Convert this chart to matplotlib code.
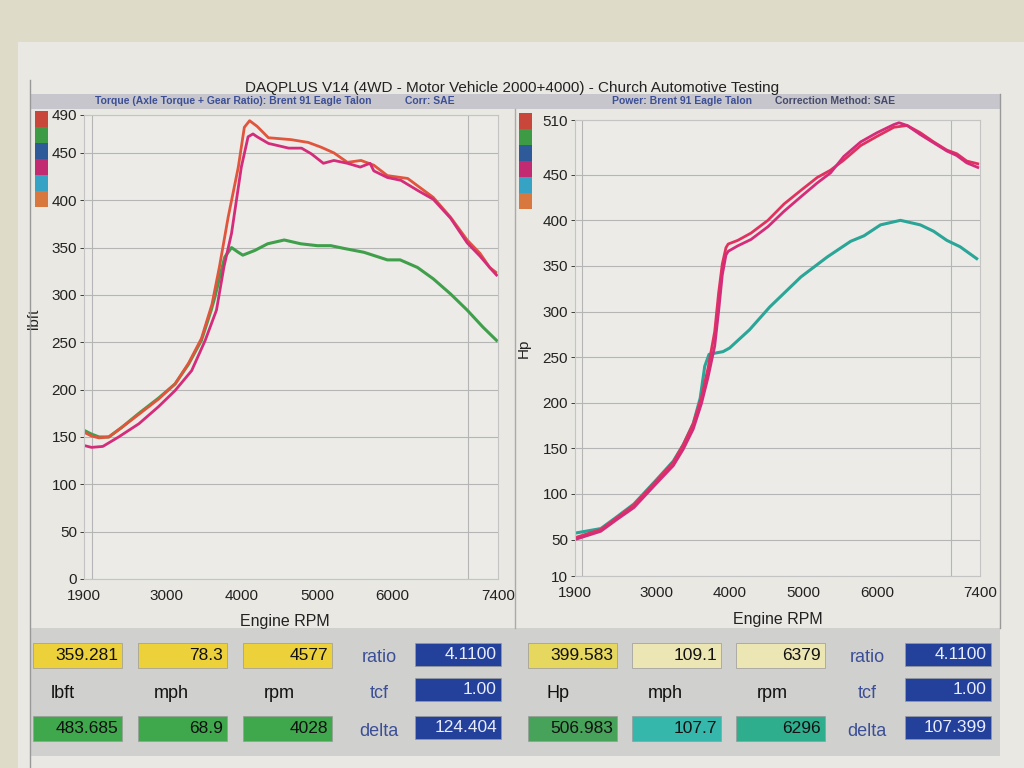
import matplotlib.pyplot as plt
from matplotlib.patches import Rectangle

plt.rcParams['font.family'] = ['Liberation Sans', 'DejaVu Sans']

# ---- torque (lbft) ----
tq_orange_rpm = [1900, 2000, 2100, 2230, 2400, 2630, 2890, 3110, 3290, 3460, 3600, 3700, 3815, 3950,
                 4030, 4100, 4200, 4350, 4650, 4880, 5050, 5220, 5400, 5580, 5750, 5930, 6200,
                 6370, 6540, 6770, 6990, 7160, 7290, 7370]
tq_orange = [155, 151, 149, 150, 160, 174, 190, 206, 228, 254, 290, 330, 382, 435,
             477, 484, 478, 466, 464, 461, 456, 450, 440, 442, 437, 426, 423,
             413, 403, 382, 358, 344, 329, 324]

tq_magenta_rpm = [1900, 2000, 2150, 2360, 2630, 2890, 3110, 3330, 3510, 3660, 3760, 3860, 3990, 4080,
                  4145, 4200, 4350, 4620, 4790, 4920, 5080, 5220, 5400, 5570, 5700, 5750, 5930,
                  6110, 6340, 6540, 6770, 6990, 7160, 7300, 7380]
tq_magenta = [141, 139, 140, 150, 164, 182, 199, 220, 252, 284, 330, 365, 435, 467,
              470, 467, 460, 455, 455, 449, 439, 442, 439, 435, 439, 431, 424,
              421, 410, 401, 381, 355, 341, 328, 321]

tq_green_rpm = [1900, 2000, 2100, 2230, 2400, 2630, 2890, 3110, 3290, 3460, 3590, 3640, 3700, 3770,
                3860, 3950, 4010, 4170, 4340, 4560, 4780, 5000, 5180, 5360, 5620, 5930, 6100,
                6330, 6540, 6770, 6990, 7200, 7380]
tq_green = [157, 153, 150, 150, 160, 175, 191, 206, 227, 252, 284, 298, 318, 340,
            350, 345, 342, 347, 354, 358, 354, 352, 352, 349, 345, 337, 337,
            329, 317, 301, 284, 266, 252]

# ---- power (Hp) ----
hp_a_rpm = [1900, 2250, 2470, 2700, 3000, 3235, 3370, 3505, 3617, 3707, 3797, 3850, 3900, 3950,
            3980, 4110, 4290, 4520, 4740, 4970, 5190, 5370, 5550, 5780, 6000, 6230, 6410,
            6590, 6770, 6950, 7085, 7220, 7370]
hp_a = [52, 61, 74, 88, 114, 135, 154, 177, 206, 238, 278, 320, 352, 370,
        374, 378, 386, 400, 418, 433, 447, 455, 466, 482, 492, 502, 504,
        496, 486, 477, 473, 465, 462]

hp_b_rpm = [1900, 2250, 2470, 2700, 3000, 3235, 3370, 3505, 3617, 3707, 3797, 3850, 3900, 3950,
            3980, 4110, 4290, 4520, 4740, 4970, 5190, 5370, 5550, 5780, 6000, 6230, 6300,
            6410, 6590, 6770, 6950, 7085, 7220, 7370]
hp_b = [50, 59, 72, 85, 111, 131, 149, 171, 199, 228, 262, 300, 340, 362,
        366, 372, 379, 393, 410, 426, 441, 452, 470, 486, 496, 505, 507,
        504, 494, 485, 476, 471, 463, 458]

hp_teal_rpm = [1900, 2250, 2470, 2700, 3000, 3235, 3370, 3505, 3600, 3662, 3720, 3775, 3910, 4000,
               4270, 4545, 4969, 5329, 5644, 5824, 6049, 6319, 6590, 6770, 6950, 7130, 7355]
hp_teal = [57, 62, 75, 89, 115, 136, 154, 177, 205, 240, 253, 254, 256, 260,
           280, 305, 338, 360, 377, 383, 395, 400, 395, 388, 378, 371, 358]

x_ticks = [1900, 3000, 4000, 5000, 6000, 7400]
tq_ticks = [0, 50, 100, 150, 200, 250, 300, 350, 400, 450, 490]
hp_ticks = [10, 50, 100, 150, 200, 250, 300, 350, 400, 450, 510]

# readout panels
left_top = ['359.281', '78.3', '4577']
left_units = ['lbft', 'mph', 'rpm']
left_bot = ['483.685', '68.9', '4028']
left_side = ['4.1100', '1.00', '124.404']
right_top = ['399.583', '109.1', '6379']
right_units = ['Hp', 'mph', 'rpm']
right_bot = ['506.983', '107.7', '6296']
right_side = ['4.1100', '1.00', '107.399']
side_names = ['ratio', 'tcf', 'delta']

legend_colors = ['#c9463a', '#3d9a45', '#2f5a9a', '#c22a72', '#36a3c4', '#d9783e']

W, H = 1024, 768


def fbox(x0, y0, x1, y1):
    # pixel box (top-left origin) -> figure rect
    return [x0 / W, 1 - y1 / H, (x1 - x0) / W, (y1 - y0) / H]


def rect(x0, y0, x1, y1, color, z=0, ec='none', lw=0):
    l, b, w, h = fbox(x0, y0, x1, y1)
    fig.add_artist(Rectangle((l, b), w, h, transform=fig.transFigure,
                             facecolor=color, edgecolor=ec, lw=lw, zorder=z))


def ftext(x, y, s, **kw):
    fig.text(x / W, 1 - y / H, s, **kw)


fig = plt.figure(figsize=(10.24, 7.68), dpi=100)
fig.patch.set_facecolor('#dedbc9')

# paper + frame
rect(18, 42, 1024, 768, '#e9e8e3', z=-5)
rect(30, 628, 1000, 756, '#d0d0ce', z=-4)
rect(30, 94, 1000, 109, '#c6c6cc', z=-4)
fig.add_artist(plt.Line2D([30 / W, 30 / W], [0, 1 - 80 / H], transform=fig.transFigure, color='#999999', lw=1))
fig.add_artist(plt.Line2D([1000 / W, 1000 / W], [1 - 628 / H, 1 - 94 / H], transform=fig.transFigure, color='#999999', lw=1))
fig.add_artist(plt.Line2D([515 / W, 515 / W], [1 - 628 / H, 1 - 109 / H], transform=fig.transFigure, color='#aaaaaa', lw=1))

ftext(512, 88, 'DAQPLUS V14 (4WD - Motor Vehicle 2000+4000) - Church Automotive Testing',
      ha='center', va='center', fontsize=11, color='#222222')
blue_txt = '#3c4f96'
ftext(95, 101, 'Torque (Axle Torque + Gear Ratio): Brent 91 Eagle Talon', ha='left', va='center',
      fontsize=7.5, fontweight='bold', color=blue_txt)
ftext(405, 101, 'Corr: SAE', ha='left', va='center', fontsize=7.5, fontweight='bold', color=blue_txt)
ftext(612, 101, 'Power: Brent 91 Eagle Talon', ha='left', va='center',
      fontsize=7.5, fontweight='bold', color=blue_txt)
ftext(775, 101, 'Correction Method: SAE', ha='left', va='center', fontsize=7.5, fontweight='bold',
      color='#454a6a')

# colour key strips
for i, c in enumerate(legend_colors):
    rect(35, 111 + i * 16, 48, 127 + i * 16, c, z=2)
    rect(519, 113 + i * 16, 532, 129 + i * 16, c, z=2)


def style(ax, yticks, ylabel, ylab_pos, xlab_pos):
    ax.set_facecolor('#ecebe7')
    ax.set_xlim(1900, 7400)
    ax.set_ylim(yticks[0], yticks[-1])
    ax.set_xticks(x_ticks)
    ax.set_xticks(range(2000, 8000, 1000), minor=True)
    ax.set_yticks(yticks)
    ax.tick_params(axis='both', which='major', labelsize=11, colors='#222222', length=3, width=0.6, pad=2)
    ax.tick_params(axis='x', which='major', length=0, pad=7)
    ax.tick_params(which='minor', length=0)
    ax.grid(which='minor', axis='x', color='#b5b5b5', lw=0.8)
    ax.grid(which='major', axis='y', color='#b5b5b5', lw=0.8)
    for s in ax.spines.values():
        s.set_color('#c4c4c4')
        s.set_linewidth(0.8)
    ax.set_ylabel(ylabel, fontsize=11, color='#222222')
    ax.yaxis.set_label_coords(*ylab_pos)
    ax.set_xlabel('Engine RPM', fontsize=11.5, color='#222222')
    ax.xaxis.set_label_coords(*xlab_pos)


ax1 = fig.add_axes(fbox(84, 115, 498, 579))
style(ax1, tq_ticks, 'lbft', (-0.105, 0.56), (0.485, -0.075))
ax1.plot(tq_green_rpm, tq_green, color='#3f9f4a', lw=2.2)
ax1.plot(tq_orange_rpm, tq_orange, color='#e0553c', lw=2.0)
ax1.plot(tq_magenta_rpm, tq_magenta, color='#d42c7a', lw=2.0)

ax2 = fig.add_axes(fbox(575, 120, 980, 576))
style(ax2, hp_ticks, 'Hp', (-0.11, 0.50), (0.50, -0.08))
ax2.plot(hp_teal_rpm, hp_teal, color='#2aa597', lw=2.2)
ax2.plot(hp_a_rpm, hp_a, color='#e0325f', lw=2.0)
ax2.plot(hp_b_rpm, hp_b, color='#d42c7a', lw=2.0)


def vbox(x0, y0, x1, y1, color, s, tcolor='#111111'):
    rect(x0, y0, x1, y1, color, z=1, ec='#9a9a9a', lw=0.5)
    ftext(x1 - 4, (y0 + y1) / 2, s, ha='right', va='center', fontsize=12.5, color=tcolor)


def readouts(x_cols, top, top_cols, units, bot, bot_cols, side, name_x, side_x):
    for i, x in enumerate(x_cols):
        vbox(x, 643, x + 89, 668, top_cols[i], top[i])
        ftext(x + 30 + i * 3, 694, units[i], ha='center', va='center', fontsize=13, color='#111111')
        vbox(x, 716, x + 89, 741, bot_cols[i], bot[i])
    for j, y in enumerate([655, 690, 728]):
        ftext(name_x, y + 3, side_names[j], ha='center', va='center', fontsize=13, color='#3c4f96')
        vbox(side_x, y - 12, side_x + 86, y + 11, '#23409a', side[j], tcolor='#e8ecff')


readouts([33, 138, 243], left_top, ['#ecd13a'] * 3, left_units, left_bot, ['#3fa84c'] * 3,
         left_side, 379, 415)
readouts([528, 632, 736], right_top, ['#e6d75e', '#ece6b4', '#ece6b4'], right_units, right_bot,
         ['#47a25a', '#35b7ac', '#2fae8e'], right_side, 867, 905)

fig.savefig('out.png', dpi=100, facecolor=fig.get_facecolor())
